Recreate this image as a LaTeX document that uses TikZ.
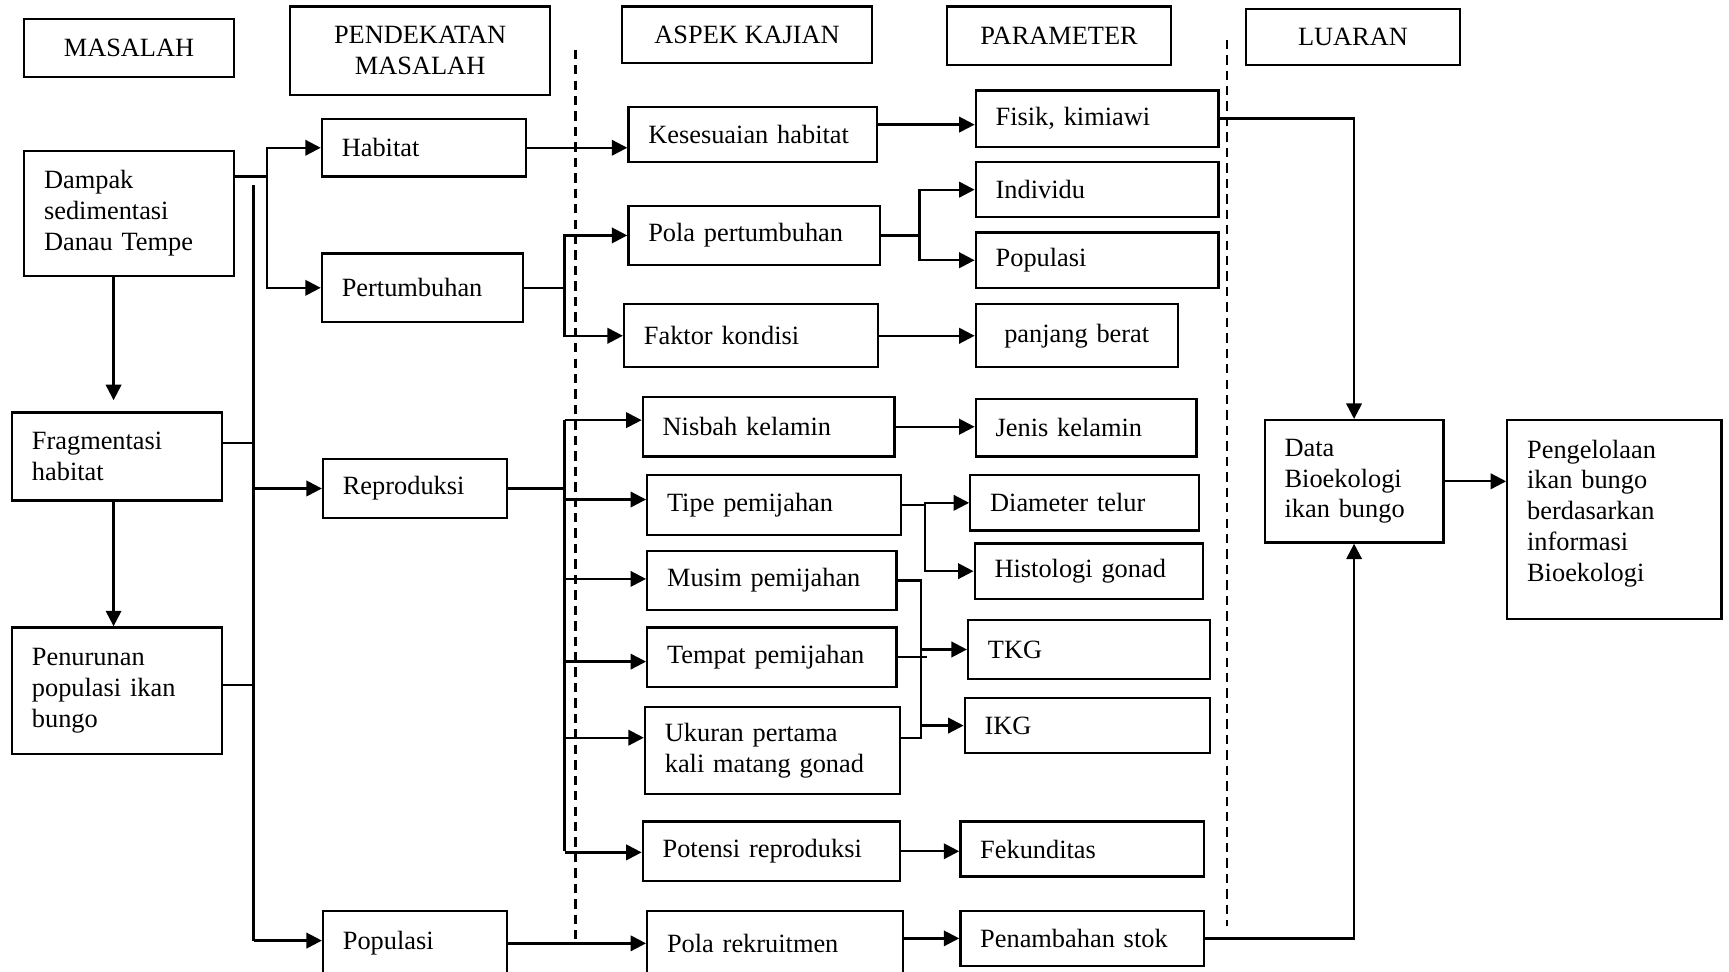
\documentclass[tikz,border=0pt]{standalone}
\usepackage{fontspec}
\setmainfont{Liberation Serif}
\usetikzlibrary{arrows.meta,positioning}

\begin{document}
\begin{tikzpicture}[
    x=0.01cm, y=-0.01cm,
    every node/.style={font=\fontsize{6.8}{7.95}\selectfont},
    box/.style 2 args={draw, line width=0.6pt, inner xsep=0.18cm, inner ysep=0pt,
      minimum width=#1cm, minimum height=#2cm, text width=#1cm-0.36cm, align=left},
    head/.style 2 args={draw, line width=0.6pt, inner sep=0pt,
      minimum width=#1cm, minimum height=#2cm, align=center},
    arr/.style={line width=0.6pt, -{Triangle[length=1.4mm,width=1.4mm]}},
    ln/.style={line width=0.6pt},
    divider/.style={line width=0.6pt, dash pattern=on 0.85mm off 0.55mm}
]
\useasboundingbox (0,0) rectangle (1568,881);

\node[head={1.90}{0.53}] (masalah) at (117,43.5) {MASALAH};
\node[head={2.36}{0.80}] (pendekatan) at (381,46) {PENDEKATAN\\MASALAH};
\node[head={2.27}{0.51}] (aspek) at (677.5,31.5) {ASPEK KAJIAN};
\node[head={2.03}{0.53}] (parameter) at (960.5,32.5) {PARAMETER};
\node[head={1.94}{0.51}] (luaran) at (1227,33.5) {LUARAN};

\node[box={1.90}{1.13}] (dampak) at (117,193.5) {Dampak\\sedimentasi\\Danau Tempe};
\node[box={1.90}{0.80}] (fragmentasi) at (106,414) {Fragmentasi\\habitat};
\node[box={1.90}{1.15}] (penurunan) at (106,626.5) {Penurunan\\populasi ikan\\bungo};

\node[box={1.85}{0.52}] (habitat) at (384.5,134) {Habitat};
\node[box={1.82}{0.62}] (pertumbuhan) at (383,261) {Pertumbuhan};
\node[box={1.67}{0.54}] (reproduksi) at (376.5,443) {Reproduksi};
\node[box={1.67}{0.59}] (populasi) at (376.5,855.5) {Populasi};

\node[box={2.25}{0.50}] (kesesuaian) at (682.5,122) {Kesesuaian habitat};
\node[box={2.28}{0.53}] (polatumbuh) at (684,213.5) {Pola pertumbuhan};
\node[box={2.30}{0.57}] (faktor) at (681,304.5) {Faktor kondisi};
\node[box={2.28}{0.54}] (nisbah) at (697,387) {Nisbah kelamin};
\node[box={2.30}{0.54}] (tipe) at (702,458) {Tipe pemijahan};
\node[box={2.26}{0.53}] (musim) at (700,526.5) {Musim pemijahan};
\node[box={2.26}{0.54}] (tempat) at (700,596) {Tempat pemijahan};
\node[box={2.31}{0.79}] (ukuran) at (700.5,680.5) {Ukuran pertama\\kali matang gonad};
\node[box={2.33}{0.54}] (potensi) at (699.5,772) {Potensi reproduksi};
\node[box={2.32}{0.59}] (rekrutmen) at (703,855.5) {Pola rekruitmen};

\node[box={2.20}{0.51}] (fisik) at (995,107.5) {Fisik, kimiawi};
\node[box={2.20}{0.50}] (individu) at (995,172) {Individu};
\node[box={2.20}{0.50}] (popparam) at (995,236) {Populasi};
\node[box={1.83}{0.57}, align=center] (panjang) at (976.5,304.5) {panjang berat};
\node[box={2.00}{0.52}] (jenis) at (985,388) {Jenis kelamin};
\node[box={2.07}{0.50}] (diameter) at (983.5,456) {Diameter telur};
\node[box={2.07}{0.50}] (histologi) at (987.5,518) {Histologi gonad};
\node[box={2.19}{0.54}] (tkg) at (987.5,589) {TKG};
\node[box={2.22}{0.50}] (ikg) at (986,658) {IKG};
\node[box={2.21}{0.50}] (fekunditas) at (981.5,770) {Fekunditas};
\node[box={2.21}{0.50}] (penambahan) at (981.5,851) {Penambahan stok};

\node[box={1.62}{1.11}] (data) at (1228,436.5) {Data\\Bioekologi\\ikan bungo};
\node[box={1.94}{1.80}] (pengelolaan) at (1464,471) {Pengelolaan\\ikan bungo\\berdasarkan\\informasi\\Bioekologi\\[-0.12cm]\mbox{}};

\draw[divider] (522,45) -- (522,855);
\draw[divider] (1113,36) -- (1113,840);

\coordinate (jA) at (242,160);
\coordinate (jB1) at (230,168);
\coordinate (jB2) at (230,853);
\coordinate (jC) at (512,261);
\coordinate (jD) at (834,213.5);
\coordinate (jE) at (512,443);
\coordinate (jF) at (839,458);
\coordinate (jG) at (835,526.5);

\draw[ln] (dampak.east |- jA) -- (jA);
\draw[arr] (jA) |- (habitat.west);
\draw[arr] (jA) |- (pertumbuhan.west);
\draw[arr, shorten >=0.1cm] (dampak.south -| 103,0) -- (fragmentasi.north -| 103,0);
\draw[arr] (fragmentasi.south -| 103,0) -- (penurunan.north -| 103,0);
\draw[ln] (jB1) -- (jB2);
\draw[ln] (fragmentasi.east |- 0,402) -- (jB1 |- 0,402);
\draw[arr] (jB1 |- reproduksi.west) -- (reproduksi.west);
\draw[ln] (penurunan.east |- 0,621) -- (jB1 |- 0,621);
\draw[arr] (jB2) -- (populasi.west |- jB2);

\draw[arr] (habitat.east) -- (kesesuaian.west |- habitat.east);
\draw[ln] (pertumbuhan.east) -- (jC);
\draw[arr] (jC) |- (polatumbuh.west);
\draw[arr] (jC) |- (faktor.west);
\draw[ln] (reproduksi.east) -- (jE);
\draw[ln] (jE |- 0,381) -- (jE |- potensi.west);
\foreach \n/\y in {nisbah/381,tipe/453,musim/525,tempat/600,ukuran/669,potensi/773}
  \draw[arr] (jE |- 0,\y) -- (\n.west |- 0,\y);
\draw[arr] (populasi.east) -- (rekrutmen.west);

\draw[arr] (kesesuaian.east |- 0,113) -- (fisik.west |- 0,113);
\draw[ln] (polatumbuh.east) -- (jD);
\draw[arr] (jD) |- (individu.west);
\draw[arr] (jD) |- (popparam.west);
\draw[arr] (faktor.east) -- (panjang.west);
\draw[arr] (nisbah.east) -- (jenis.west |- nisbah.east);
\draw[ln] (tipe.east) -- (jF);
\draw[arr] (jF) |- (diameter.west);
\draw[arr] (jF) |- (histologi.west);
\draw[ln] (musim.east) -- (jG) -- (jG |- 0,669) -- (ukuran.east |- 0,669);
\draw[ln] (tempat.east) -- ++(27,0);
\draw[arr] (jG |- tkg.west) -- (tkg.west);
\draw[arr] (jG |- ikg.west) -- (ikg.west);
\draw[arr] (potensi.east) -- (fekunditas.west |- potensi.east);
\draw[arr] (rekrutmen.east |- penambahan.west) -- (penambahan.west);

\draw[arr] (fisik.east) -| (data.north);
\draw[arr] (penambahan.east) -| (data.south);
\draw[arr] (data.east) -- (pengelolaan.west |- data.east);
\end{tikzpicture}
\end{document}
